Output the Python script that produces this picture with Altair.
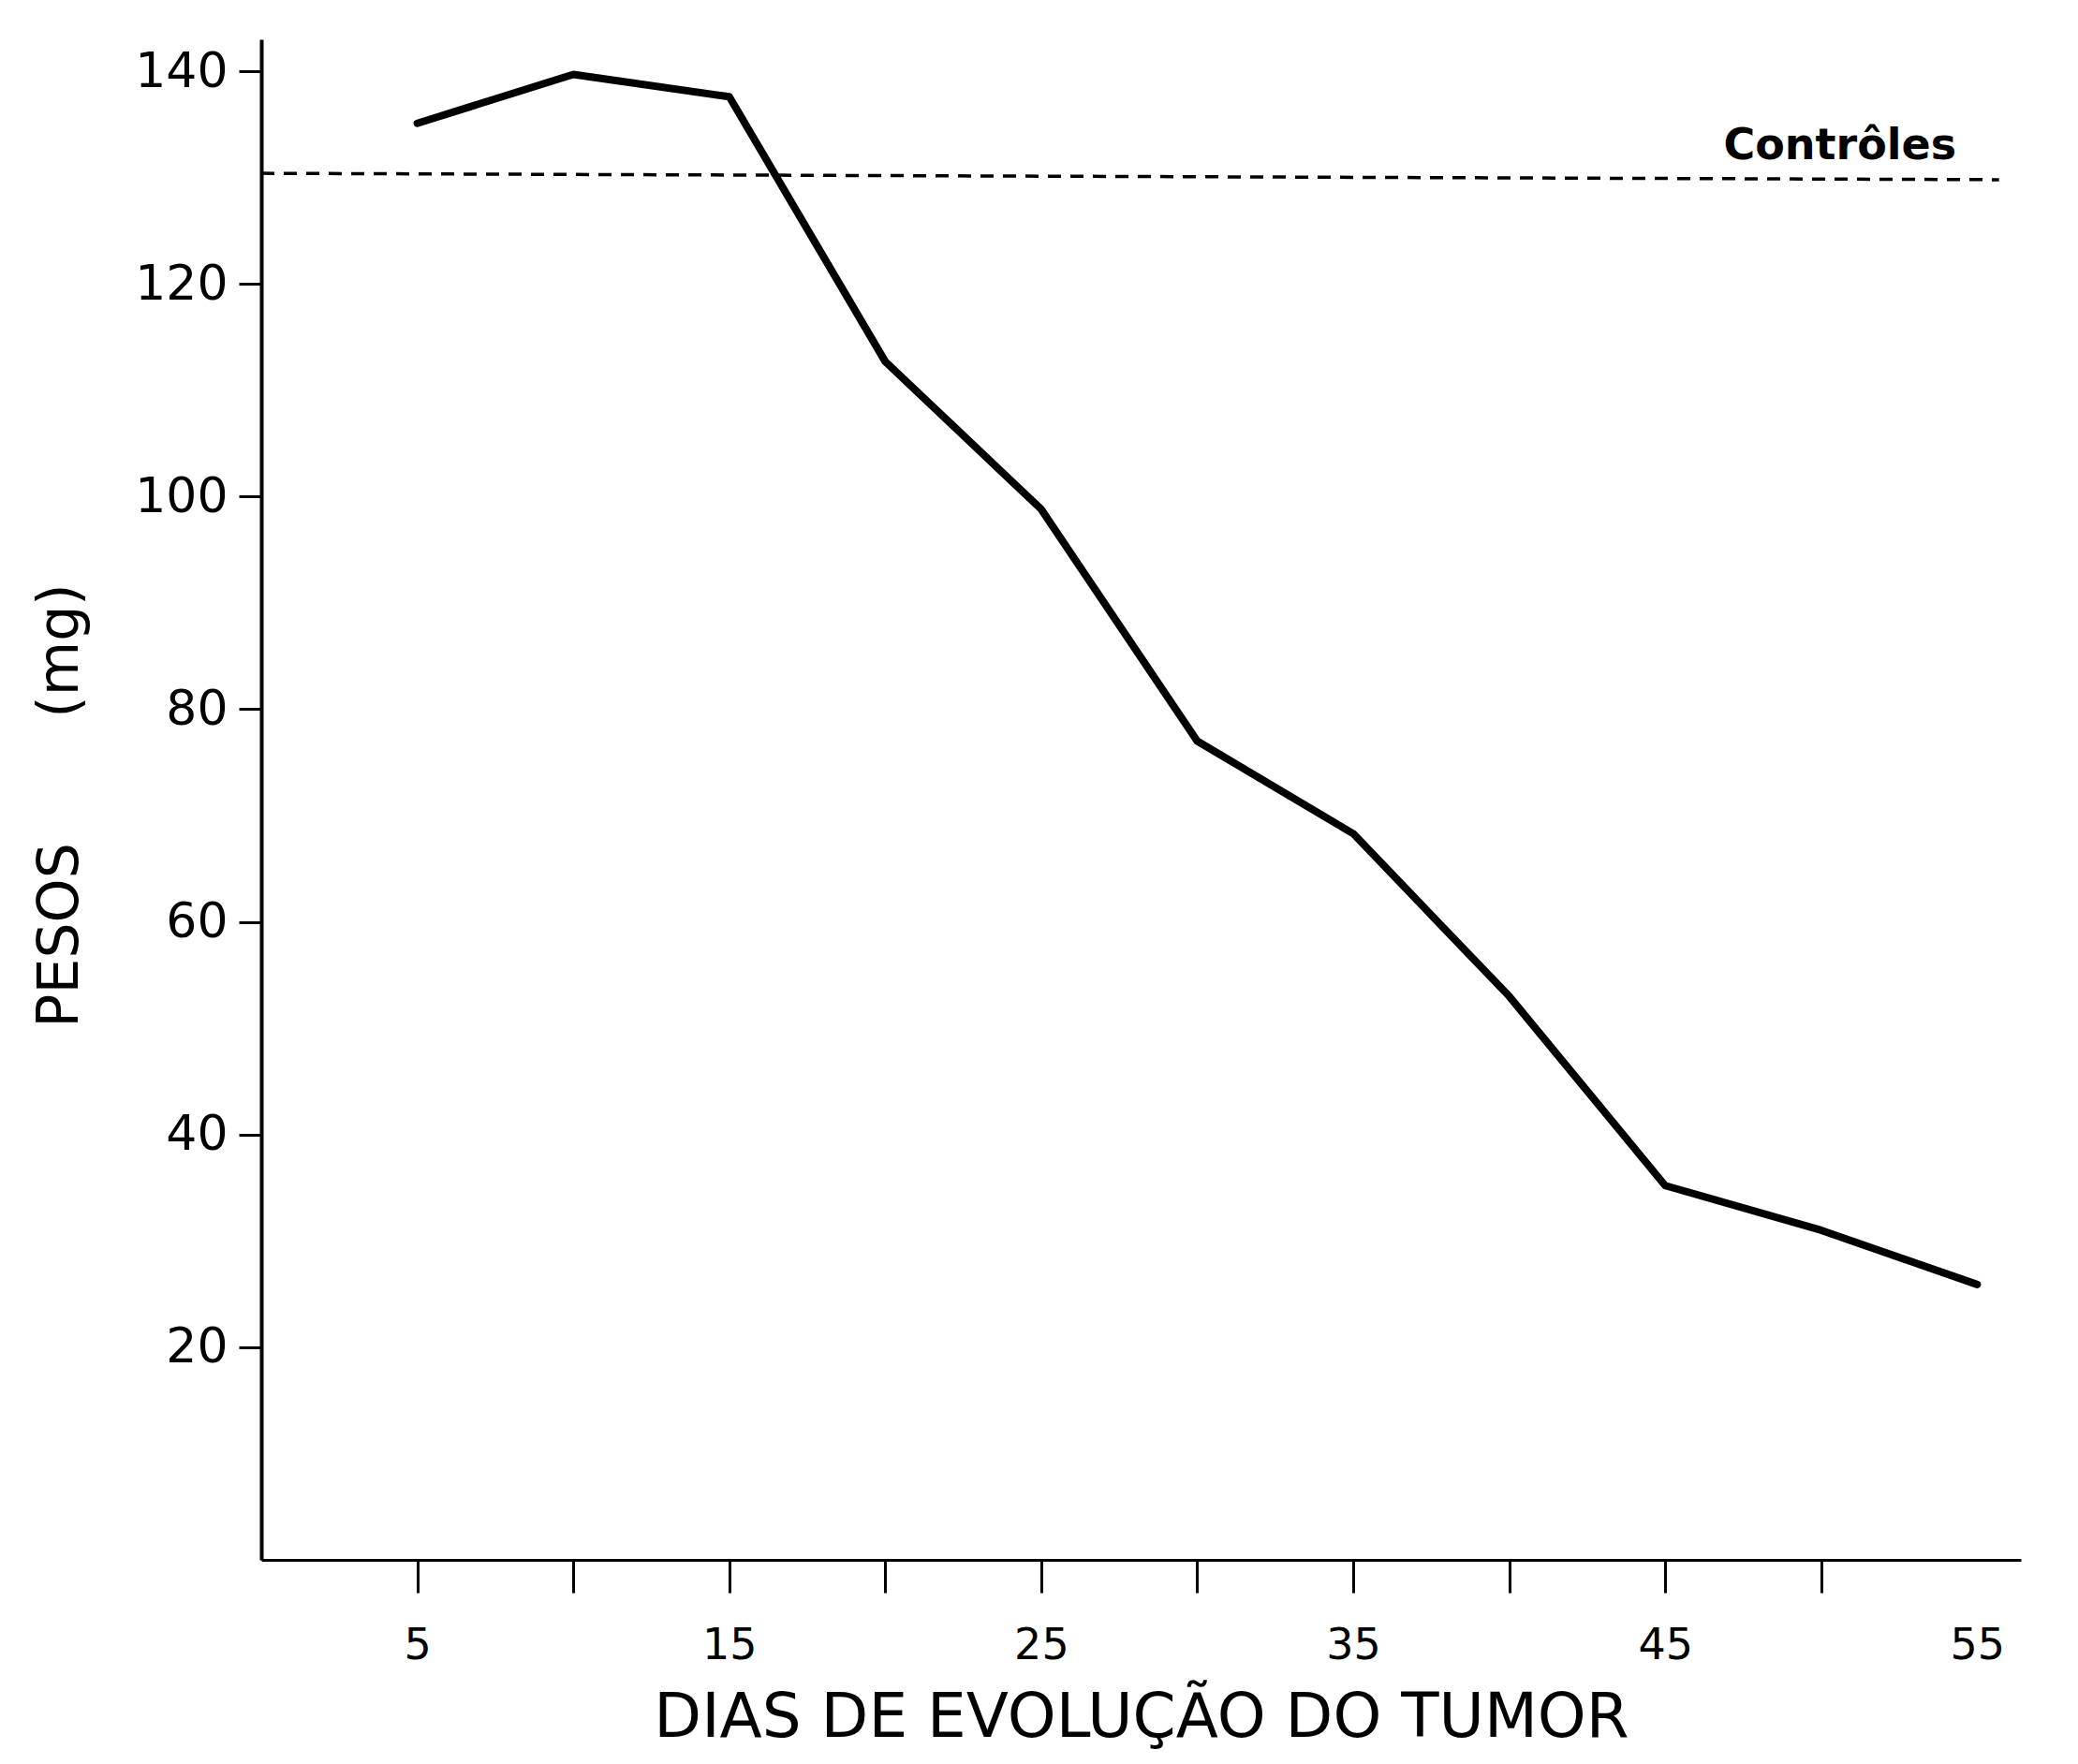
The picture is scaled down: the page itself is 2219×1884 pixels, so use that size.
import altair as alt
import pandas as pd

days = [5, 10, 15, 20, 25, 30, 35, 40, 45, 50, 55]
pesos = [135.1, 139.7, 137.6, 112.7, 98.8, 77.0, 68.3, 53.0, 35.2, 31.0, 25.9]

ctrl_x = [0, 55.7]
ctrl_y = [130.4, 129.8]
ctrl_label = "Contrôles"
ctrl_label_x = 50.6
ctrl_label_y = 130

x_ticks = [5, 10, 15, 20, 25, 30, 35, 40, 45, 50, 55]
y_ticks = [20, 40, 60, 80, 100, 120, 140]

FONT = "DejaVu Sans"

df = pd.DataFrame({"dia": days, "peso": pesos})
df_ctrl = pd.DataFrame({"dia": ctrl_x, "peso": ctrl_y})
df_lab = pd.DataFrame({"dia": [ctrl_label_x], "peso": [ctrl_label_y], "t": [ctrl_label]})

xs = alt.Scale(domain=[0, 56.4], nice=False, zero=False)
ys = alt.Scale(domain=[0, 143], nice=False, zero=False)

x_axis = alt.Axis(
    values=x_ticks,
    labelExpr="datum.value % 10 == 5 ? datum.label : ''",
    title="DIAS DE EVOLUÇÃO DO TUMOR",
    titleFont=FONT, titleFontSize=66, titleFontWeight="normal", titleColor="black",
    titlePadding=22,
    labelFont=FONT, labelFontSize=46, labelColor="black", labelPadding=34,
    tickSize=35, tickWidth=3, tickColor="black",
    tickOpacity={"condition": {"test": "datum.value === 55", "value": 0}, "value": 1},
    domainColor="black", domainWidth=3, grid=False,
)
y_axis = alt.Axis(
    values=y_ticks,
    title="PESOS\u00a0\u00a0\u00a0\u00a0\u00a0\u00a0\u00a0(mg)",
    titleFont=FONT, titleFontSize=60, titleFontWeight="normal", titleColor="black",
    titleAngle=270, titleBaseline="middle", titleX=-215, titleY=818, titleAlign="center",
    labelFont=FONT, labelFontSize=52, labelColor="black", labelPadding=12,
    tickSize=24, tickWidth=3, tickColor="black",
    domainColor="black", domainWidth=4, grid=False,
)

line = alt.Chart(df).mark_line(color="black", strokeWidth=8, strokeJoin="round", strokeCap="round").encode(
    x=alt.X("dia:Q", scale=xs, axis=x_axis),
    y=alt.Y("peso:Q", scale=ys, axis=y_axis),
)

ctrl = alt.Chart(df_ctrl).mark_line(color="black", strokeWidth=3.5, strokeDash=[14, 10]).encode(
    x=alt.X("dia:Q", scale=xs),
    y=alt.Y("peso:Q", scale=ys),
)

lab = alt.Chart(df_lab).mark_text(
    font=FONT, fontSize=46, color="black", baseline="bottom", align="center", dy=-10, fontWeight="bold"
).encode(
    x=alt.X("dia:Q", scale=xs),
    y=alt.Y("peso:Q", scale=ys),
    text="t:N",
)

chart = alt.layer(ctrl, line, lab).properties(
    width=1879, height=1624,
    autosize=alt.AutoSizeParams(type="none"),
    padding={"left": 271, "top": 34, "right": 40, "bottom": 210},
    background="white",
).configure_view(stroke=None)

chart.save("out.html", embed_options={"renderer": "svg", "actions": False})
